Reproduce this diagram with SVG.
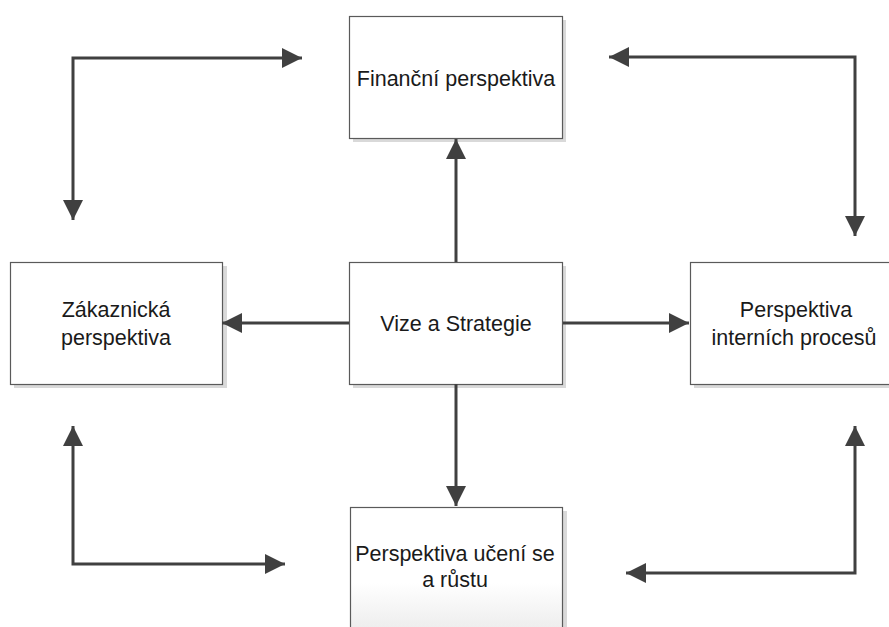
<svg xmlns="http://www.w3.org/2000/svg" width="889" height="627" viewBox="0 0 889 627">
<defs>
<style>
.box{fill:#ffffff;stroke:#5a5a5a;stroke-width:1.2}
.shadow{fill:#d9d9d9}
.lbl{font-family:"Liberation Sans",Arial,sans-serif;font-size:21.5px;fill:#1a1a1a;text-anchor:middle}
.conn{fill:none;stroke:#404040;stroke-width:3}
</style>
<marker id="ah" viewBox="0 0 20 20" refX="20" refY="10" markerWidth="20" markerHeight="20" markerUnits="userSpaceOnUse" orient="auto-start-reverse">
<path d="M0,0 L20,10 L0,20 Z" fill="#404040"/>
</marker>
<linearGradient id="fade" x1="0" y1="0" x2="0" y2="1">
<stop offset="0" stop-color="#ffffff"/>
<stop offset="0.6" stop-color="#ffffff"/>
<stop offset="1" stop-color="#ececec"/>
</linearGradient>
</defs>
<rect width="889" height="627" fill="#ffffff"/>

<g id="financni">
<rect class="shadow" x="353" y="20" width="213" height="122"/>
<rect class="box" x="349.5" y="16.5" width="213" height="122"/>
<text class="lbl" x="456" y="86">Finanční perspektiva</text>
</g>

<g id="zakaznicka">
<rect class="shadow" x="14" y="266" width="213" height="122"/>
<rect class="box" x="10.5" y="262.5" width="212" height="122"/>
<text class="lbl" x="116" y="317">Zákaznická</text>
<text class="lbl" x="116" y="345">perspektiva</text>
</g>

<g id="vize">
<rect class="shadow" x="353" y="266" width="213" height="122"/>
<rect class="box" x="349.5" y="262.5" width="213" height="122"/>
<text class="lbl" x="456" y="331">Vize a Strategie</text>
</g>

<g id="interni">
<rect class="shadow" x="694" y="266" width="213" height="122"/>
<rect class="box" x="690.5" y="262.5" width="212" height="122"/>
<text class="lbl" x="796" y="317">Perspektiva</text>
<text class="lbl" x="794" y="345">interních procesů</text>
</g>

<g id="uceni">
<rect class="shadow" x="354" y="511" width="213" height="122"/>
<rect class="box" x="350.5" y="507.5" width="212" height="125" style="fill:url(#fade)"/>
<text class="lbl" x="455" y="561">Perspektiva učení se</text>
<text class="lbl" x="455" y="587">a růstu</text>
</g>

<g id="connectors">
<line class="conn" x1="456" y1="262" x2="456" y2="139" marker-end="url(#ah)"/>
<line class="conn" x1="349" y1="323" x2="222" y2="323" marker-end="url(#ah)"/>
<line class="conn" x1="563" y1="323" x2="689" y2="323" marker-end="url(#ah)"/>
<line class="conn" x1="456" y1="384" x2="456" y2="506" marker-end="url(#ah)"/>
<path class="conn" d="M73,220 L73,58 L302,58" marker-start="url(#ah)" marker-end="url(#ah)"/>
<path class="conn" d="M855,236 L855,57 L609,57" marker-start="url(#ah)" marker-end="url(#ah)"/>
<path class="conn" d="M285,564 L73,564 L73,426" marker-start="url(#ah)" marker-end="url(#ah)"/>
<path class="conn" d="M626,573 L855,573 L855,426" marker-start="url(#ah)" marker-end="url(#ah)"/>
</g>
</svg>
